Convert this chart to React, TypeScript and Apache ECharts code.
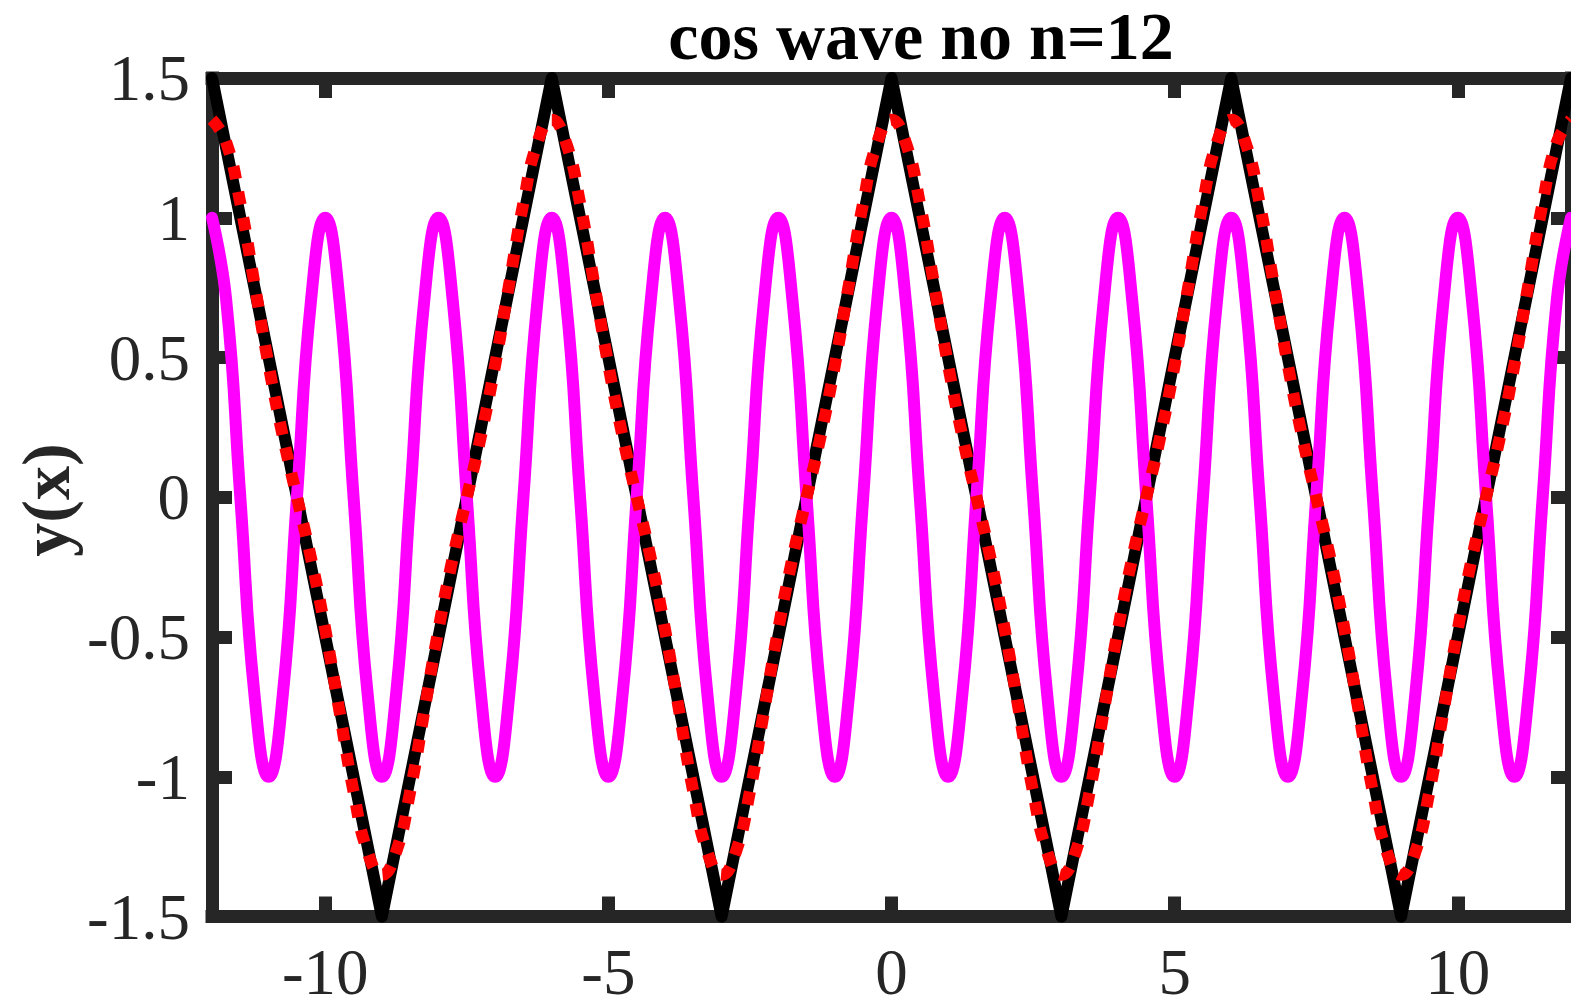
import React, { useEffect, useRef } from "react";
import * as echarts from "echarts";

// sampling grid (x) shared by the smooth curves
const xs = [
  -12, -11.75, -11.5, -11.25, -11, -10.75, -10.5, -10.25, -10, -9.75, -9.5, -9.25,
  -9, -8.75, -8.5, -8.25, -8, -7.75, -7.5, -7.25, -7, -6.75, -6.5, -6.25,
  -6, -5.75, -5.5, -5.25, -5, -4.75, -4.5, -4.25, -4, -3.75, -3.5, -3.25,
  -3, -2.75, -2.5, -2.25, -2, -1.75, -1.5, -1.25, -1, -0.75, -0.5, -0.25,
  0, 0.25, 0.5, 0.75, 1, 1.25, 1.5, 1.75, 2, 2.25, 2.5, 2.75,
  3, 3.25, 3.5, 3.75, 4, 4.25, 4.5, 4.75, 5, 5.25, 5.5, 5.75,
  6, 6.25, 6.5, 6.75, 7, 7.25, 7.5, 7.75, 8, 8.25, 8.5, 8.75,
  9, 9.25, 9.5, 9.75, 10, 10.25, 10.5, 10.75, 11, 11.25, 11.5, 11.75,
  12,
];

// magenta cos wave values at xs
const cosVals = [
  1, 0.707, 0, -0.707, -1, -0.707, 0, 0.707, 1, 0.707, 0, -0.707,
  -1, -0.707, 0, 0.707, 1, 0.707, 0, -0.707, -1, -0.707, 0, 0.707,
  1, 0.707, 0, -0.707, -1, -0.707, 0, 0.707, 1, 0.707, 0, -0.707,
  -1, -0.707, 0, 0.707, 1, 0.707, 0, -0.707, -1, -0.707, 0, 0.707,
  1, 0.707, 0, -0.707, -1, -0.707, 0, 0.707, 1, 0.707, 0, -0.707,
  -1, -0.707, 0, 0.707, 1, 0.707, 0, -0.707, -1, -0.707, 0, 0.707,
  1, 0.707, 0, -0.707, -1, -0.707, 0, 0.707, 1, 0.707, 0, -0.707,
  -1, -0.707, 0, 0.707, 1, 0.707, 0, -0.707, -1, -0.707, 0, 0.707,
  1,
];

// red dotted approximation values at xs
const approxVals = [
  1.351, 1.27, 1.053, 0.764, 0.473, 0.219, 0, -0.219, -0.473, -0.764, -1.053, -1.27,
  -1.351, -1.27, -1.053, -0.764, -0.473, -0.219, 0, 0.219, 0.473, 0.764, 1.053, 1.27,
  1.351, 1.27, 1.053, 0.764, 0.473, 0.219, 0, -0.219, -0.473, -0.764, -1.053, -1.27,
  -1.351, -1.27, -1.053, -0.764, -0.473, -0.219, 0, 0.219, 0.473, 0.764, 1.053, 1.27,
  1.351, 1.27, 1.053, 0.764, 0.473, 0.219, 0, -0.219, -0.473, -0.764, -1.053, -1.27,
  -1.351, -1.27, -1.053, -0.764, -0.473, -0.219, 0, 0.219, 0.473, 0.764, 1.053, 1.27,
  1.351, 1.27, 1.053, 0.764, 0.473, 0.219, 0, -0.219, -0.473, -0.764, -1.053, -1.27,
  -1.351, -1.27, -1.053, -0.764, -0.473, -0.219, 0, 0.219, 0.473, 0.764, 1.053, 1.27,
  1.351,
];

// black triangle wave corners
const triX = [-12, -9, -6, -3, 0, 3, 6, 9, 12];
const triY = [1.5, -1.5, 1.5, -1.5, 1.5, -1.5, 1.5, -1.5, 1.5];

const xTicks = [-10, -5, 0, 5, 10];
const titleText = "cos wave no n=12";
const yLabelText = "y(x)";

const AX = "#262626";
const FONT = "'Liberation Serif', 'Times New Roman', serif";

export default function App() {
  const ref = useRef<HTMLDivElement>(null);

  useEffect(() => {
    if (!ref.current) return;
    const chart = echarts.init(ref.current, undefined, { renderer: "svg" });

    const axisLine = {
      show: true,
      onZero: false,
      lineStyle: { color: AX, width: 13, cap: "square" },
    };
    const tick = (custom?: number[]) => ({
      show: true,
      inside: true,
      length: 20,
      lineStyle: { color: AX, width: 13 },
      ...(custom ? { customValues: custom } : {}),
    });
    const labelStyle = {
      color: AX,
      fontFamily: FONT,
      fontSize: 65,
    };

    const pair = (a: number[], b: number[]) => a.map((x, i) => [x, b[i]]);

    chart.setOption({
      animation: false,
      backgroundColor: "#ffffff",
      grid: { left: 212, right: -7, top: 78, bottom: 86, containLabel: false },
      xAxis: [
        {
          type: "value",
          position: "bottom",
          min: -12,
          max: 12,
          axisLine,
          axisTick: tick(xTicks),
          axisLabel: { ...labelStyle, lineHeight: 54, margin: 28, customValues: xTicks },
          splitLine: { show: false },
        },
        {
          type: "value",
          position: "top",
          min: -12,
          max: 12,
          axisLine,
          axisTick: tick(xTicks),
          axisLabel: { show: false },
          splitLine: { show: false },
        },
      ],
      yAxis: [
        {
          type: "value",
          position: "left",
          min: -1.5,
          max: 1.5,
          interval: 0.5,
          axisLine,
          axisTick: tick(),
          axisLabel: { ...labelStyle, lineHeight: 66, margin: 22 },
          splitLine: { show: false },
        },
        {
          type: "value",
          position: "right",
          min: -1.5,
          max: 1.5,
          interval: 0.5,
          axisLine,
          axisTick: tick(),
          axisLabel: { show: false },
          splitLine: { show: false },
        },
      ],
      graphic: [
        {
          type: "text",
          x: 921,
          y: 36,
          style: {
            text: titleText,
            fill: "#000",
            font: `bold 68px ${FONT}`,
            textAlign: "center",
            textVerticalAlign: "middle",
          },
        },
        {
          type: "text",
          x: 46,
          y: 500,
          rotation: Math.PI / 2,
          style: {
            text: yLabelText,
            fill: AX,
            font: `bold 68px ${FONT}`,
            textAlign: "center",
            textVerticalAlign: "middle",
          },
        },
      ],
      series: [
        {
          type: "line",
          data: pair(triX, triY),
          symbol: "none",
          clip: false,
          z: 2,
          lineStyle: { color: "#000000", width: 12, join: "round", cap: "round" },
        },
        {
          type: "line",
          data: pair(xs, cosVals),
          symbol: "none",
          smooth: 0.5,
          clip: false,
          z: 3,
          lineStyle: { color: "#ff00ff", width: 12, join: "round", cap: "round" },
        },
        {
          type: "line",
          data: pair(xs, approxVals),
          symbol: "none",
          smooth: 0.5,
          clip: false,
          z: 4,
          lineStyle: { color: "#ff0000", width: 12, type: [13, 13], cap: "butt" },
        },
      ],
    });

    return () => chart.dispose();
  }, []);

  return (
    <div
      ref={ref}
      style={{ position: "fixed", left: 0, top: 0, width: 1571, height: 1004, background: "#fff" }}
    />
  );
}
